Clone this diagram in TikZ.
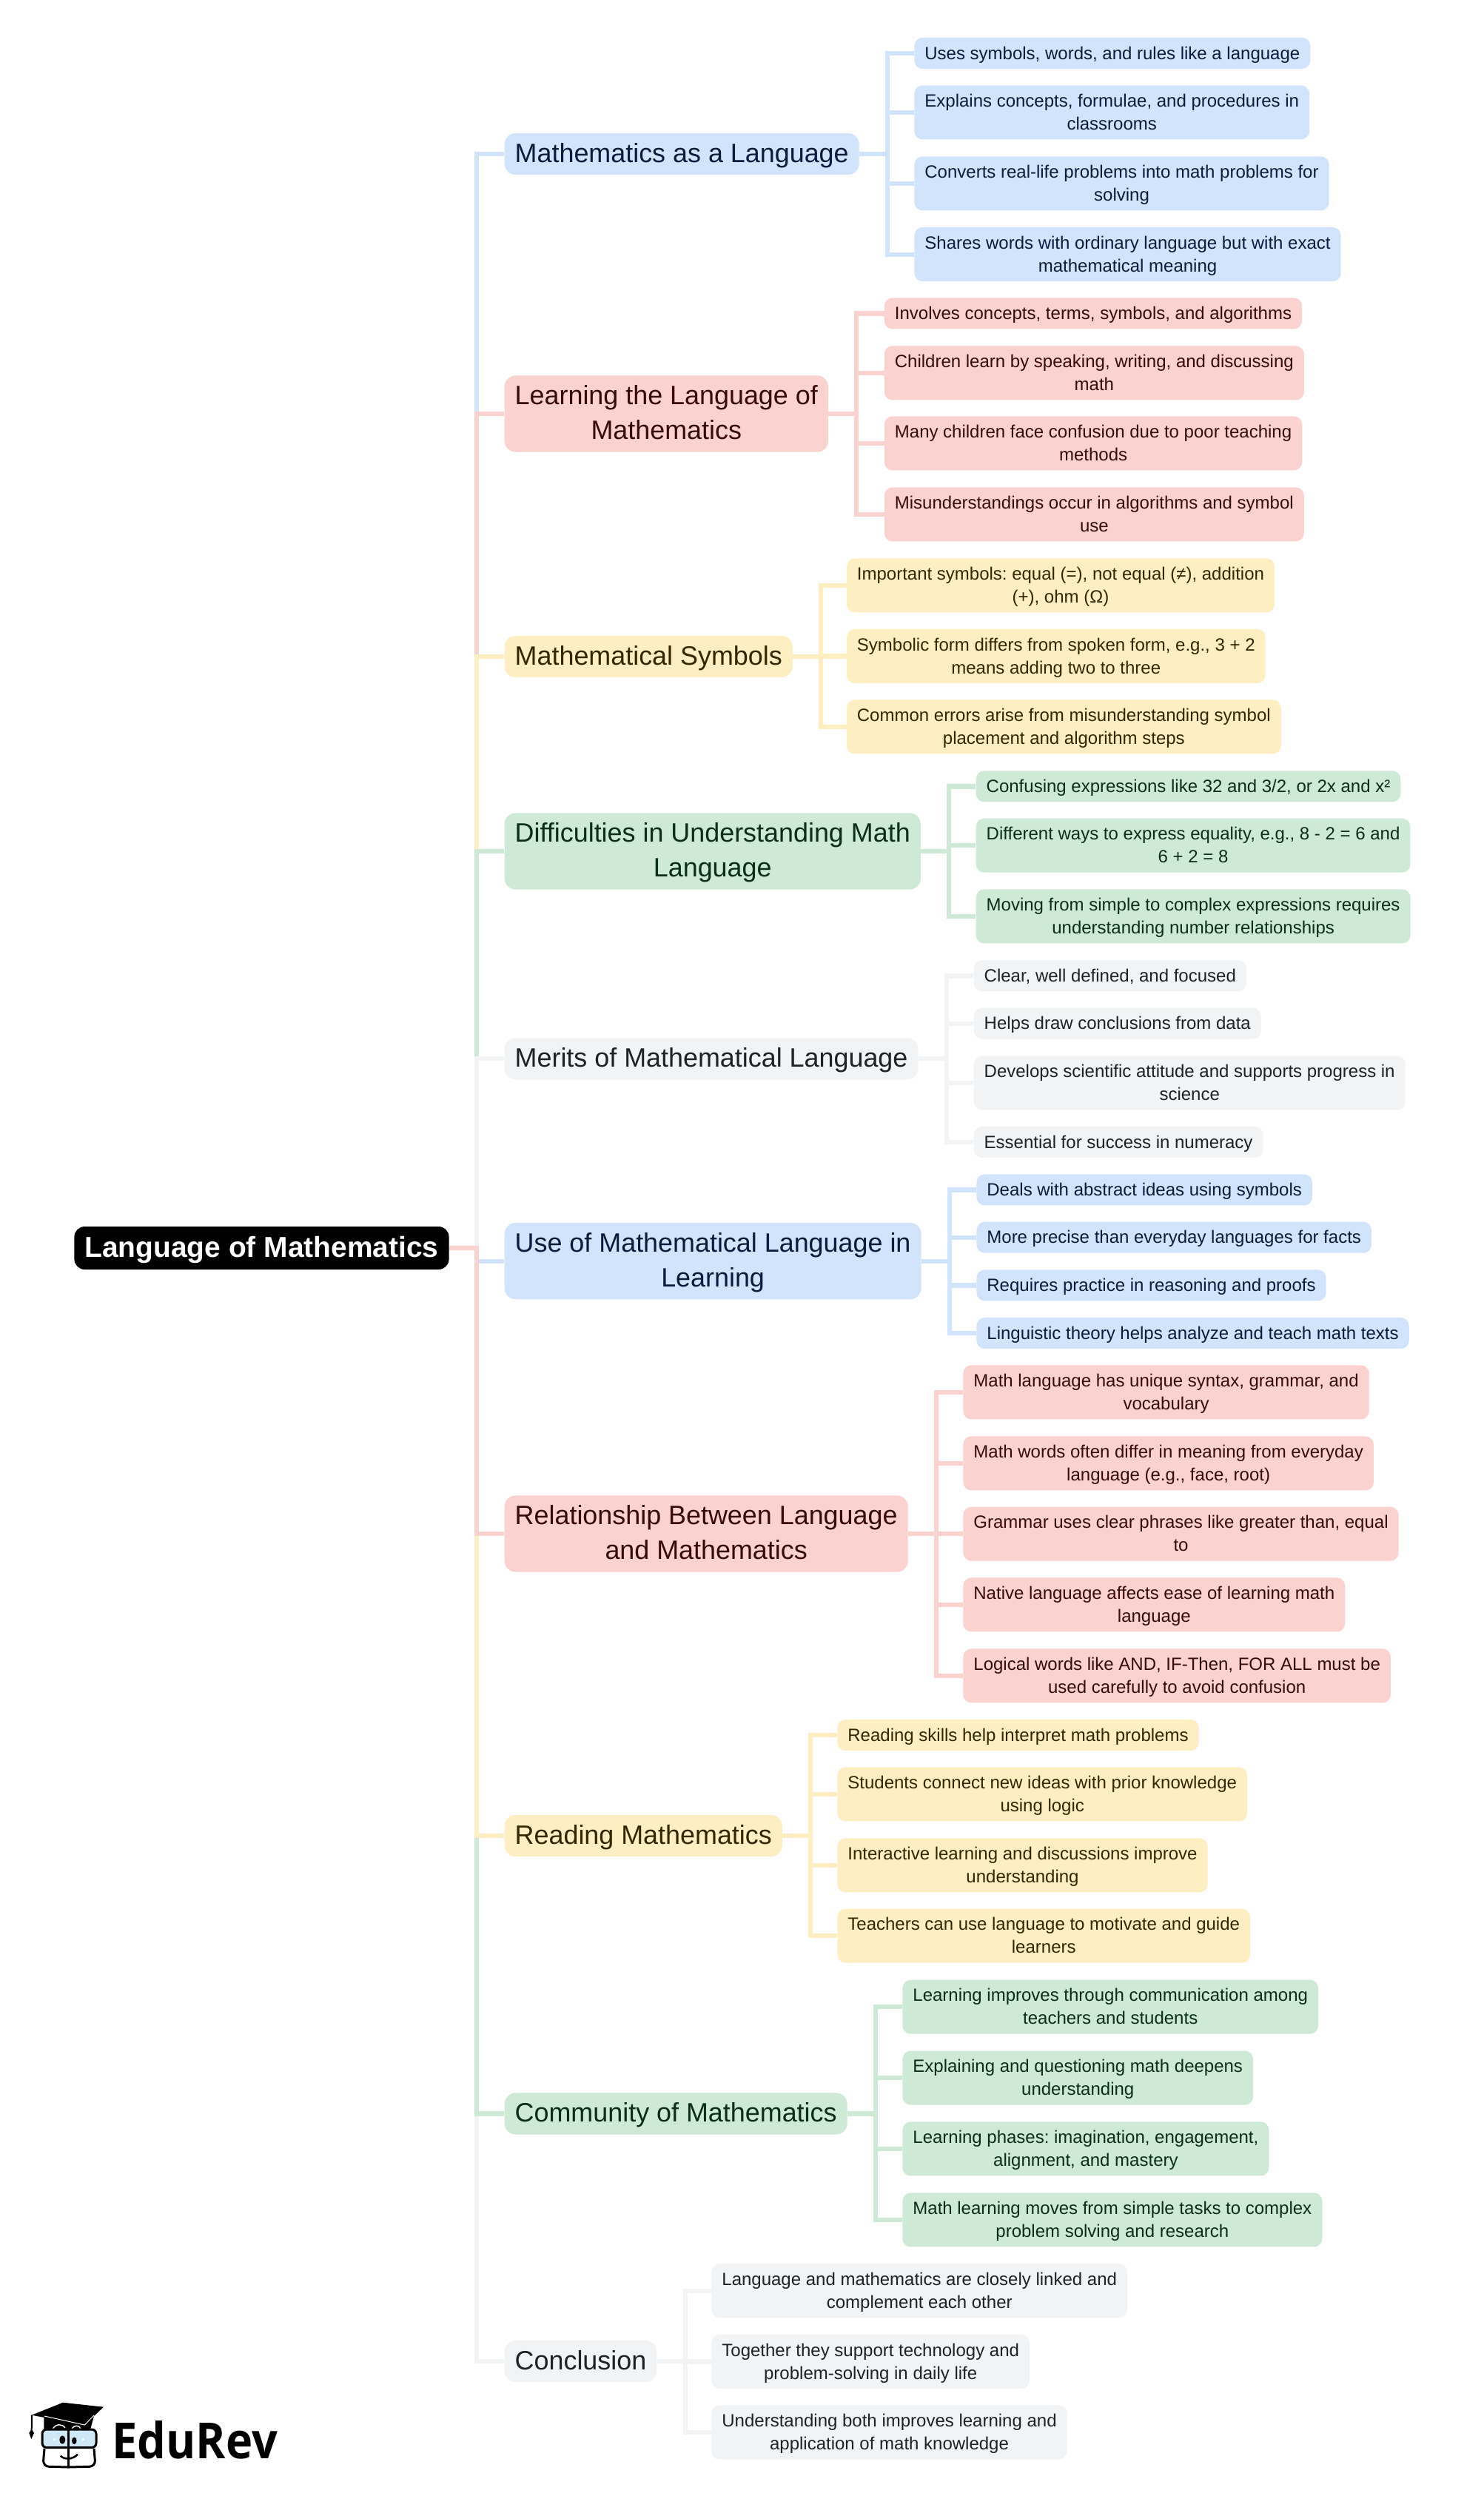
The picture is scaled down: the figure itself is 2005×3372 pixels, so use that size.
\documentclass[tikz,border=0pt]{standalone}
\usepackage{fontspec}
\setmainfont{Liberation Sans}
\newfontfamily\logofont[FakeStretch=0.912]{Open Sans}
\usepackage{tikz}
\usetikzlibrary{positioning}
\frenchspacing
\newcommand{\LeafTop}{\rule{0pt}{14.6pt}}
\newcommand{\LeafEnd}{\rule[-6.4pt]{0pt}{6.4pt}}
\newcommand{\MainTop}{\rule{0pt}{19.7pt}}
\newcommand{\MainEnd}{\rule[-8.35pt]{0pt}{8.35pt}}
\definecolor{blueFill}{HTML}{D2E3FC}
\definecolor{pinkFill}{HTML}{FAD2CF}
\definecolor{yellowFill}{HTML}{FEEFC3}
\definecolor{greenFill}{HTML}{CEEAD6}
\definecolor{grayFill}{HTML}{F1F3F4}
\definecolor{blueText}{HTML}{0B1B3D}
\definecolor{pinkText}{HTML}{3A0A08}
\definecolor{yellowText}{HTML}{332600}
\definecolor{greenText}{HTML}{0A2E17}
\definecolor{grayText}{HTML}{202124}
\definecolor{glassBlue}{HTML}{CFE8F7}
\tikzset{
  x=0.5pt, y=-0.5pt,
  rootnode/.style={fill=black, text=white, rounded corners=7pt, inner xsep=7pt, inner ysep=0pt,
    text height=20.5pt, text depth=8.5pt, font=\fontsize{19.47pt}{25pt}\selectfont\bfseries, anchor=west},
  mainnode/.style={rounded corners=7.5pt, inner xsep=7pt, inner ysep=0pt, align=center, anchor=west,
    font=\fontsize{17.95pt}{23.6pt}\selectfont},
  leaf/.style={rounded corners=5.5pt, inner xsep=7pt, inner ysep=0pt, align=center, anchor=north west,
    font=\fontsize{12pt}{15.5pt}\selectfont},
  link/.style={line width=3.1pt, line cap=butt, line join=miter},
}
\begin{document}
\begin{tikzpicture}
        \useasboundingbox (0,0) rectangle (2005,3372);
        % main topics
        \node[rootnode] (root) at (100,1686) {Language of Mathematics};
        \foreach \name/\ypos/\col/\descr in {
          main1/208/blue/{Mathematics as a Language},
          main2/559/pink/{Learning the Language of\\Mathematics},
          main3/887/yellow/{Mathematical Symbols},
          main4/1150/green/{Difficulties in Understanding Math\\Language},
          main5/1430.3/gray/{Merits of Mathematical Language},
          main6/1703.6/blue/{Use of Mathematical Language in\\Learning},
          main7/2072/pink/{Relationship Between Language\\and Mathematics},
          main8/2480/yellow/{Reading Mathematics},
          main9/2855.5/green/{Community of Mathematics},
          main10/3190/gray/{Conclusion}}
        \node[mainnode, fill=\col Fill, text=\col Text] (\name) at (681.3,\ypos) {\MainTop\descr\MainEnd};
        % leaves, first group
        \foreach \name/\xpos/\ypos/\col/\descr in {
          leaf11/1235/50.5/blue/{Uses symbols, words, and rules like a language},
          leaf12/1235/115/blue/{Explains concepts, formulae, and procedures in\\classrooms},
          leaf13/1235/211/blue/{Converts real-life problems into math problems for\\solving},
          leaf14/1235/306.7/blue/{Shares words with ordinary language but with exact\\mathematical meaning},
          leaf21/1194.5/402/pink/{Involves concepts, terms, symbols, and algorithms},
          leaf22/1194.5/467/pink/{Children learn by speaking, writing, and discussing\\math},
          leaf23/1194.5/562/pink/{Many children face confusion due to poor teaching\\methods},
          leaf24/1194.5/658/pink/{Misunderstandings occur in algorithms and symbol\\use},
          leaf31/1143.5/754/yellow/{Important symbols: equal (=), not equal (≠), addition\\(+), ohm (Ω)},
          leaf32/1143.5/849.5/yellow/{Symbolic form differs from spoken form, e.g., 3 + 2\\means adding two to three},
          leaf33/1143.5/945/yellow/{Common errors arise from misunderstanding symbol\\placement and algorithm steps},
          leaf41/1318.3/1041/green/{Confusing expressions like 32 and 3/2, or 2x and x²},
          leaf42/1318.3/1105.3/green/{Different ways to express equality, e.g., 8 - 2 = 6 and\\6 + 2 = 8},
          leaf43/1318.3/1201/green/{Moving from simple to complex expressions requires\\understanding number relationships},
          leaf51/1315.3/1297/gray/{Clear, well defined, and focused},
          leaf52/1315.3/1361.3/gray/{Helps draw conclusions from data},
          leaf53/1315.3/1426/gray/{Develops scientific attitude and supports progress in\\science},
          leaf54/1315.3/1521.5/gray/{Essential for success in numeracy}}
        \node[leaf, fill=\col Fill, text=\col Text] (\name) at (\xpos,\ypos) {\LeafTop\descr\LeafEnd};
        % leaves, second group
        \foreach \name/\xpos/\ypos/\col/\descr in {
          leaf61/1319/1586/blue/{Deals with abstract ideas using symbols},
          leaf62/1319/1650.3/blue/{More precise than everyday languages for facts},
          leaf63/1319/1715/blue/{Requires practice in reasoning and proofs},
          leaf64/1319/1779.7/blue/{Linguistic theory helps analyze and teach math texts},
          leaf71/1301/1844/pink/{Math language has unique syntax, grammar, and\\vocabulary},
          leaf72/1301/1940/pink/{Math words often differ in meaning from everyday\\language (e.g., face, root)},
          leaf73/1301/2035.3/pink/{Grammar uses clear phrases like greater than, equal\\to},
          leaf74/1301/2131/pink/{Native language affects ease of learning math\\language},
          leaf75/1301/2227/pink/{Logical words like AND, IF-Then, FOR ALL must be\\used carefully to avoid confusion},
          leaf81/1131/2322.7/yellow/{Reading skills help interpret math problems},
          leaf82/1131/2387/yellow/{Students connect new ideas with prior knowledge\\using logic},
          leaf83/1131/2483/yellow/{Interactive learning and discussions improve\\understanding},
          leaf84/1131/2578.3/yellow/{Teachers can use language to motivate and guide\\learners},
          leaf91/1219/2674.3/green/{Learning improves through communication among\\teachers and students},
          leaf92/1219/2770.2/green/{Explaining and questioning math deepens\\understanding},
          leaf93/1219/2866/green/{Learning phases: imagination, engagement,\\alignment, and mastery},
          leaf94/1219/2962/green/{Math learning moves from simple tasks to complex\\problem solving and research},
          leaf101/961/3057.7/gray/{Language and mathematics are closely linked and\\complement each other},
          leaf102/961/3153.5/gray/{Together they support technology and\\problem-solving in daily life},
          leaf103/961/3249/gray/{Understanding both improves learning and\\application of math knowledge}}
        \node[leaf, fill=\col Fill, text=\col Text] (\name) at (\xpos,\ypos) {\LeafTop\descr\LeafEnd};
        % spine from the root, nearest branch on top
        \foreach \name/\col in {main1/blue,main2/pink,main3/yellow,main4/green,main5/gray,main10/gray,main9/green,main8/yellow,main6/blue,main7/pink}
        \draw[link, \col Fill] (root.east) -- +(37,0) |- (\name.west);
        % branches to the leaves
        \foreach \name/\col/\kids in {main1/blue/{leaf11,leaf12,leaf13,leaf14},main2/pink/{leaf21,leaf22,leaf23,leaf24},main3/yellow/{leaf31,leaf32,leaf33},main4/green/{leaf41,leaf42,leaf43},main5/gray/{leaf51,leaf52,leaf53,leaf54},main6/blue/{leaf61,leaf62,leaf63,leaf64},main7/pink/{leaf71,leaf72,leaf73,leaf74,leaf75},main8/yellow/{leaf81,leaf82,leaf83,leaf84},main9/green/{leaf91,leaf92,leaf93,leaf94},main10/gray/{leaf101,leaf102,leaf103}}
        \foreach \kid in \kids
        \draw[link, \col Fill] (\name.east) -- +(38,0) |- (\kid.west);
        % logo
        \fill (59.3,3265) -- (59.3,3282) -- (122,3282) -- (127,3264) -- cycle;
        \fill (42.7,3262.7) -- (85,3245.7) -- (140,3251.7) -- (114.3,3276) -- cycle;
        \draw[white, line width=0.5pt] (60,3264) -- (114.3,3276) -- (127,3263);
        \draw[white, line width=0.7pt] (71,3282) .. controls (75,3274) and (84,3274) .. (88,3280);
        \draw[white, line width=0.7pt] (97,3281) .. controls (100,3276) and (107,3276) .. (109,3281);
        \draw[fill=glassBlue, line width=1.5pt, rounded corners=3pt] (57,3282) rectangle (130,3306.5);
        \draw[line width=1.5pt, rounded corners=4pt] (60,3308) -- (58,3332) -- (92,3333);
        \draw[line width=1.5pt, rounded corners=4pt] (127,3308) -- (129,3332) -- (92,3333);
        \draw[line width=1.7pt] (92.3,3281) -- (92.3,3333.5);
        \fill (84.3,3296) ellipse [x radius=4, y radius=5.7];
        \fill (100.3,3297.3) ellipse [x radius=3.3, y radius=4.7];
        \fill[white] (72,3294) rectangle (75,3297);
        \fill[white] (111,3294) rectangle (114,3297);
        \draw[line width=1.3pt] (81.7,3317.7) .. controls (87,3323) and (98,3323) .. (105,3315.7);
        \draw[line width=1pt] (43,3262.7) -- (42.7,3284);
        \fill (42.7,3282) -- (39.3,3286.7) -- (42.3,3295) -- (46,3286.7) -- cycle;
        \node[font=\logofont\bfseries\fontsize{33.6pt}{36pt}\selectfont, anchor=base west, inner sep=0pt] (brand) at (151,3321) {EduRev};
    \end{tikzpicture}
\end{document}
